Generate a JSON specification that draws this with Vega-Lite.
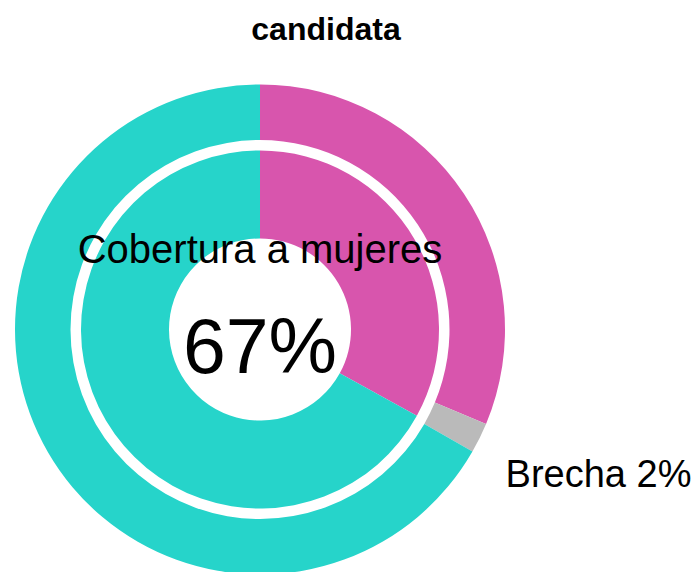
{
  "$schema": "https://vega.github.io/schema/vega-lite/v6.json",
  "width": 490,
  "height": 485,
  "autosize": {"type": "none"},
  "padding": {"left": 15, "top": 87, "right": 195, "bottom": 0},
  "background": "white",
  "view": {"stroke": null},
  "title": {
    "text": "candidata",
    "font": "Liberation Sans",
    "fontSize": 32,
    "fontWeight": "bold",
    "color": "black",
    "anchor": "middle",
    "frame": "group",
    "dx": 66,
    "offset": 38
  },
  "datasets": {
    "rings": [
      {"ring": "outer", "cat": "Mujeres", "value": 31.3, "order": 1},
      {"ring": "outer", "cat": "Brecha", "value": 2.0, "order": 2},
      {"ring": "outer", "cat": "Hombres", "value": 66.7, "order": 3},
      {"ring": "inner", "cat": "Mujeres", "value": 33.0, "order": 1},
      {"ring": "inner", "cat": "Hombres", "value": 67.0, "order": 3}
    ],
    "labels": [
      {"pos": "top", "label": "Cobertura a mujeres"},
      {"pos": "center", "label": "67%"},
      {"pos": "gap", "label": "Brecha 2%"}
    ]
  },
  "layer": [
    {
      "data": {"name": "rings"},
      "transform": [{"filter": "datum.ring === 'outer'"}],
      "mark": {"type": "arc", "radius": 245, "radius2": 189.5},
      "encoding": {
        "theta": {"field": "value", "type": "quantitative", "stack": true},
        "order": {"field": "order", "type": "quantitative"},
        "color": {
          "field": "cat",
          "type": "nominal",
          "scale": {"domain": ["Mujeres", "Brecha", "Hombres"], "range": ["#d855ad", "#bababa", "#26d4ca"]},
          "legend": null
        }
      }
    },
    {
      "data": {"name": "rings"},
      "transform": [{"filter": "datum.ring === 'inner'"}],
      "mark": {"type": "arc", "radius": 179, "radius2": 91},
      "encoding": {
        "theta": {"field": "value", "type": "quantitative", "stack": true},
        "order": {"field": "order", "type": "quantitative"},
        "color": {
          "field": "cat",
          "type": "nominal",
          "scale": {"domain": ["Mujeres", "Brecha", "Hombres"], "range": ["#d855ad", "#bababa", "#26d4ca"]},
          "legend": null
        }
      }
    },
    {
      "data": {"name": "labels"},
      "transform": [{"filter": "datum.pos === 'top'"}],
      "mark": {"type": "text", "font": "Liberation Sans", "fontSize": 40, "align": "center", "baseline": "alphabetic", "dy": -66.5, "color": "black"},
      "encoding": {"text": {"field": "label", "type": "nominal"}}
    },
    {
      "data": {"name": "labels"},
      "transform": [{"filter": "datum.pos === 'center'"}],
      "mark": {"type": "text", "font": "Liberation Sans", "fontSize": 77, "align": "center", "baseline": "alphabetic", "dy": 43, "color": "black"},
      "encoding": {"text": {"field": "label", "type": "nominal"}}
    },
    {
      "data": {"name": "labels"},
      "transform": [{"filter": "datum.pos === 'gap'"}],
      "mark": {"type": "text", "font": "Liberation Sans", "fontSize": 38, "align": "left", "baseline": "alphabetic", "dx": 245.6, "dy": 157, "color": "black"},
      "encoding": {"text": {"field": "label", "type": "nominal"}}
    }
  ]
}
